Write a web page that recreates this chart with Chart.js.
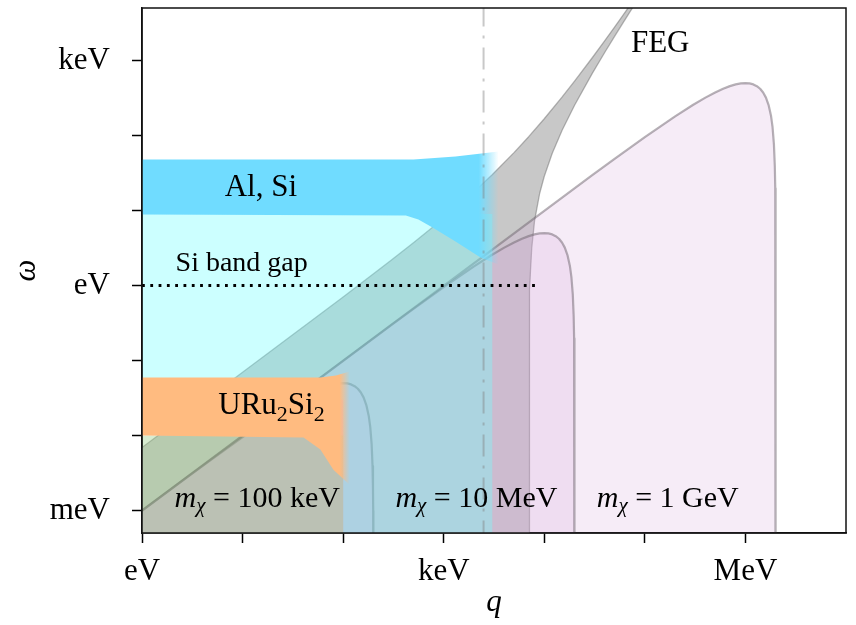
<!DOCTYPE html>
<html><head><meta charset="utf-8">
<script src="https://cdn.jsdelivr.net/npm/chart.js@4.4.1/dist/chart.umd.min.js"></script>
<style>html,body{margin:0;padding:0;background:#fff;}canvas{display:block;}</style>
</head><body>
<canvas id="c" width="856" height="625"></canvas>
<script>
// ---------- data (q in eV, omega in eV) ----------
const xTickValues = [1, 10, 100, 1e3, 1e4, 1e5, 1e6];
const xTickLabels = ['eV', '', '', 'keV', '', '', 'MeV'];
const yTickValues = [1e-3, 1e-2, 1e-1, 1, 10, 100, 1e3];
const yTickLabels = ['meV', '', '', 'eV', '', '', 'keV'];

// free electron gas continuum, upper and lower edges
const fegUpperQ = [1, 100, 300, 500, 1000, 2000, 3000, 5000, 7000, 10000, 15000, 20000, 30000, 40000, 50000, 60000, 70000, 80000];
const fegUpperW = [0.00692, 0.702, 2.164, 3.705, 7.90, 17.75, 29.57, 59.06, 96.39, 167.1, 324, 529.8, 1088, 1842, 2792, 3938, 5279, 6816];
const fegLowerQ = [7072, 7080, 7100, 7200, 7500, 8000, 9000, 10000, 12000, 15000, 20000, 30000, 40000, 50000, 60000, 70000, 80000];
const fegLowerW = [0.000001, 0.054, 0.193, 0.90, 3.14, 7.26, 16.98, 28.65, 57.86, 116.4, 253, 673, 1289, 2100, 3107, 4310, 5708];

// kinematically allowed DM regions
const dm100kQ = [1, 3, 5, 10, 20, 30, 40, 50, 60, 70, 80, 90, 100, 110, 120, 130, 140, 150, 160, 170, 180, 186, 192, 196, 198, 199, 199.6, 200];
const dm100kW = [0.001, 0.002955, 0.004875, 0.0095, 0.018, 0.0255, 0.032, 0.0375, 0.042, 0.0455, 0.048, 0.0495, 0.05, 0.0495, 0.048, 0.0455, 0.042, 0.0375, 0.032, 0.0255, 0.018, 0.01302, 0.00768, 0.00392, 0.00198, 0.000995, 0.000399, 0.000001];
const dm10MQ = [1, 300, 500, 1000, 2000, 3000, 4000, 5000, 6000, 7000, 8000, 9000, 10000, 11000, 12000, 13000, 14000, 15000, 16000, 17000, 18000, 18600, 19200, 19600, 19800, 19900, 19960, 20000];
const dm10MW = [0.001, 0.2955, 0.4875, 0.95, 1.8, 2.55, 3.2, 3.75, 4.2, 4.55, 4.8, 4.95, 5.0, 4.95, 4.8, 4.55, 4.2, 3.75, 3.2, 2.55, 1.8, 1.302, 0.768, 0.392, 0.198, 0.0995, 0.0399, 0.000001];
const dm1GQ = [1, 30000, 50000, 1e5, 2e5, 3e5, 4e5, 5e5, 6e5, 7e5, 8e5, 9e5, 1e6, 1.1e6, 1.2e6, 1.3e6, 1.4e6, 1.5e6, 1.6e6, 1.7e6, 1.8e6, 1.86e6, 1.92e6, 1.96e6, 1.98e6, 1.99e6, 1.996e6, 2e6];
const dm1GW = [0.001, 29.55, 48.75, 95, 180, 255, 320, 375, 420, 455, 480, 495, 500, 495, 480, 455, 420, 375, 320, 255, 180, 130.2, 76.8, 39.2, 19.8, 9.95, 3.99, 0.000001];

// material response regions (schematic)
const alSiBulkQ = [1, 3040, 3040, 100, 100, 1];
const alSiBulkW = [9.0, 9.0, 0.000001, 0.000001, 0.03, 0.03];
const alSiBandQ = [1, 501, 1309, 3510, 3510, 2323, 1309, 774, 560, 420, 1];
const alSiBandW = [47.9, 47.9, 52.5, 61.2, 1.9, 2.36, 3.86, 5.93, 7.6, 8.6, 8.85];
const uruBulkQ = [1, 100, 100, 1];
const uruBulkW = [0.0100, 0.0100, 0.000001, 0.000001];
const uruBandQ = [1, 59.4, 85, 116, 116, 80, 59.4, 40.4, 1];
const uruBandW = [0.0593, 0.0593, 0.063, 0.0713, 0.0022, 0.0035, 0.0065, 0.0094, 0.0100];

// reference lines
const siGapQ = [1, 8250];
const siGapW = [1.0, 1.0];
const vLineQ = [2490, 2490];
const vLineW = [0.0001, 10000];

// ---------- helpers ----------
const pts = (qs, ws) => qs.map((q, i) => ({x: q, y: ws[i]}));
const rev = a => a.slice().reverse();
const labelFor = (v, vals, labs) => {
  for (let i = 0; i < vals.length; i++) {
    if (Math.abs(Math.log10(v) - Math.log10(vals[i])) < 1e-6) return labs[i];
  }
  return '';
};
function hFade(rgb, q0, q1) {
  return (c) => {
    const ch = c.chart; const xs = ch.scales && ch.scales.x;
    if (!xs || !ch.chartArea) return `rgba(${rgb},1)`;
    const x0 = xs.getPixelForValue(q0), x1 = xs.getPixelForValue(q1);
    const g = ch.ctx.createLinearGradient(x0, 0, x1, 0);
    g.addColorStop(0, `rgba(${rgb},1)`);
    g.addColorStop(1, `rgba(${rgb},0)`);
    return g;
  };
}
const SERIF = '"Liberation Serif", "Times New Roman", serif';
const F = (size, style) => `${style ? style + ' ' : ''}${size}px ${SERIF}`;
const mLabel = s => [{t: 'm', font: F(30, 'italic')}, {t: 'χ', font: F(21, 'italic'), dy: 5}, {t: ' = ' + s, font: F(30)}];
const annotations = [
  {q: 15.2, w: 15.4, runs: [{t: 'Al, Si', font: F(31)}]},
  {q: 1.42e5, w: 1306, runs: [{t: 'FEG', font: F(31)}]},
  {q: 9.8, w: 1.55, runs: [{t: 'Si band gap', font: F(28)}]},
  {q: 19.4, w: 0.0191, runs: [{t: 'URu', font: F(31)}, {t: '2', font: F(22), dy: 7}, {t: 'Si', font: F(31)}, {t: '2', font: F(22), dy: 7}]},
  {q: 14.0, w: 0.00113, runs: mLabel('100 keV')},
  {q: 2113, w: 0.00113, runs: mLabel('10 MeV')},
  {q: 1.69e5, w: 0.00113, runs: mLabel('1 GeV')}
];
function drawRuns(ctx, runs, cx, baseline) {
  let total = 0;
  runs.forEach(r => { ctx.font = r.font; r.w = ctx.measureText(r.t).width; total += r.w; });
  let x = cx - total / 2;
  runs.forEach(r => { ctx.font = r.font; ctx.fillText(r.t, x, baseline + (r.dy || 0)); x += r.w; });
}
const framePlugin = {
  id: 'frame',
  afterDatasetsDraw(chart) {
    const {ctx, chartArea: a} = chart;
    ctx.save();
    ctx.strokeStyle = '#111';
    ctx.lineWidth = 1.5;
    ctx.strokeRect(a.left, a.top, a.right - a.left, a.bottom - a.top);
    ctx.restore();
  }
};
const textPlugin = {
  id: 'texts',
  afterDatasetsDraw(chart) {
    const {ctx} = chart; const xs = chart.scales.x, ys = chart.scales.y;
    ctx.save();
    ctx.fillStyle = '#000';
    ctx.textBaseline = 'alphabetic';
    ctx.textAlign = 'left';
    annotations.forEach(a => drawRuns(ctx, a.runs, xs.getPixelForValue(a.q), ys.getPixelForValue(a.w)));
    ctx.restore();
  }
};

const base = {pointRadius: 0, pointHoverRadius: 0, tension: 0, clip: 0, borderJoinStyle: 'round'};
const dmLine = 'rgba(110,100,110,0.5)';
const dmFill = 'rgba(215,170,220,0.22)';
const fegLine = 'rgba(120,120,120,0.55)';

const datasets = [
  {...base, label: 'FEG', data: pts(fegUpperQ.concat(rev(fegLowerQ), [1]), fegUpperW.concat(rev(fegLowerW), [0.000001])),
    fill: 'shape', backgroundColor: 'rgb(200,200,200)', borderColor: 'transparent', borderWidth: 0, order: 100},
  {...base, label: 'FEG upper', data: pts(fegUpperQ, fegUpperW), fill: false, borderColor: fegLine, borderWidth: 1.3, order: 99},
  {...base, label: 'FEG lower', data: pts(fegLowerQ, fegLowerW), fill: false, borderColor: fegLine, borderWidth: 1.3, order: 98},
  {...base, label: 'm 1 GeV', data: pts(dm1GQ, dm1GW), fill: 'start', backgroundColor: dmFill, borderColor: dmLine, borderWidth: 2.2, order: 90},
  {...base, label: 'm 10 MeV', data: pts(dm10MQ, dm10MW), fill: 'start', backgroundColor: dmFill, borderColor: dmLine, borderWidth: 2.2, order: 89},
  {...base, label: 'm 100 keV', data: pts(dm100kQ, dm100kW), fill: 'start', backgroundColor: dmFill, borderColor: dmLine, borderWidth: 2.2, order: 88},
  {...base, label: 'Al Si bulk', data: pts(alSiBulkQ, alSiBulkW), fill: 'shape', backgroundColor: 'rgba(115,254,255,0.364)', borderColor: 'transparent', borderWidth: 0, order: 80},
  {...base, label: 'URu2Si2 bulk', data: pts(uruBulkQ, uruBulkW), fill: 'shape', backgroundColor: 'rgba(157,207,137,0.4)', borderColor: 'transparent', borderWidth: 0, order: 70},
  {...base, label: 'Al Si', data: pts(alSiBandQ, alSiBandW), fill: 'shape', backgroundColor: hFade('112,220,255', 2223, 3510), borderColor: 'transparent', borderWidth: 0, order: 60},
  {...base, label: 'URu2Si2', data: pts(uruBandQ, uruBandW), fill: 'shape', backgroundColor: hFade('255,187,128', 92, 116), borderColor: 'transparent', borderWidth: 0, order: 59},
  {...base, label: 'Si band gap', data: pts(siGapQ, siGapW), fill: false, borderColor: '#000', borderWidth: 2.8, borderDash: [2.8, 5.5], borderCapStyle: 'butt', order: 20},
  {...base, label: 'dash-dot', data: pts(vLineQ, vLineW), fill: false, borderColor: 'rgba(128,128,128,0.43)', borderWidth: 2, borderDash: [22, 9, 3, 9], order: 10}
];

new Chart(document.getElementById('c'), {
  type: 'line',
  data: {datasets},
  plugins: [framePlugin, textPlugin],
  options: {
    responsive: false, animation: false, devicePixelRatio: 1, events: [],
    layout: {padding: {top: 8, right: 10, left: 0, bottom: 0}},
    plugins: {legend: {display: false}, tooltip: {enabled: false}},
    scales: {
      x: {
        type: 'logarithmic', min: 1, max: 1e7,
        afterBuildTicks: s => { s.ticks = xTickValues.map(v => ({value: v})); },
        afterFit: s => { s.height = 92; s.paddingLeft = 0; s.paddingRight = 0; },
        ticks: {autoSkip: false, maxRotation: 0, minRotation: 0, padding: 10, color: '#000',
          font: {size: 31, family: SERIF}, callback: v => labelFor(v, xTickValues, xTickLabels)},
        grid: {display: true, drawOnChartArea: false, drawTicks: true, tickLength: 10, tickWidth: 1.5, tickColor: '#000'},
        border: {display: true, color: '#111', width: 1.5},
        title: {display: true, text: 'q', color: '#000', font: {size: 31, style: 'italic', family: SERIF}, padding: {top: 0, bottom: 4}}
      },
      y: {
        type: 'logarithmic', min: 5.012e-4, max: 5012,
        afterBuildTicks: s => { s.ticks = yTickValues.map(v => ({value: v})); },
        afterFit: s => { s.width = 142; s.paddingTop = 0; s.paddingBottom = 0; },
        ticks: {autoSkip: false, padding: 22, color: '#000',
          font: {size: 31, family: SERIF}, callback: v => labelFor(v, yTickValues, yTickLabels)},
        grid: {display: true, drawOnChartArea: false, drawTicks: true, tickLength: 10, tickWidth: 1.5, tickColor: '#000'},
        border: {display: true, color: '#111', width: 1.5},
        title: {display: true, text: 'ω', color: '#000', font: {size: 31, style: 'italic', family: SERIF}, padding: {top: 8, bottom: 0}}
      }
    }
  }
});
</script>
</body></html>
